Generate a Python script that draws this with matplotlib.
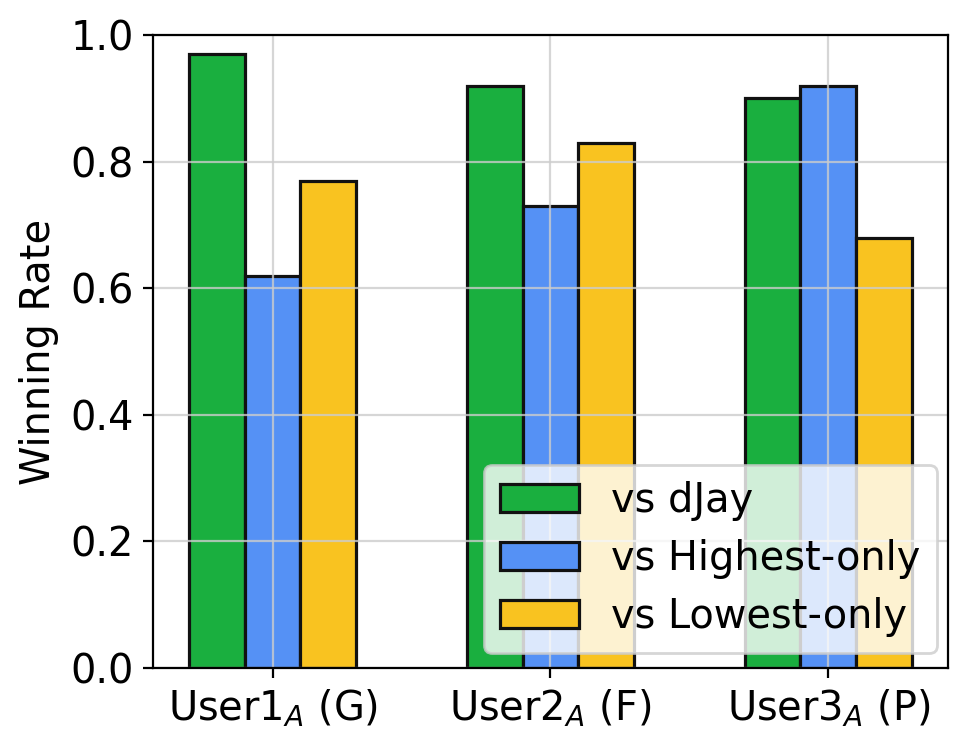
import matplotlib.pyplot as plt
import numpy as np

users = ['User1$_A$ (G)', 'User2$_A$ (F)', 'User3$_A$ (P)']
series_names = ['vs dJay', 'vs Highest-only', 'vs Lowest-only']
vs_djay = [0.97, 0.92, 0.90]
vs_highest = [0.62, 0.73, 0.92]
vs_lowest = [0.77, 0.83, 0.68]
colors = ['#1AAF3F', '#5591F5', '#F9C320']

plt.rcParams['font.size'] = 14.35

fig, ax = plt.subplots(figsize=(4.845, 3.74), dpi=200)
x = np.arange(len(users))
width = 0.2
for i, (vals, name) in enumerate(zip([vs_djay, vs_highest, vs_lowest], series_names)):
    ax.bar(x + (i - 1) * width, vals, width, color=colors[i], edgecolor='#111111',
           linewidth=1.15, label=name)

ax.set_xticks(x)
ax.set_xticklabels(users)
ax.set_ylim(0, 1.0)
ax.set_ylabel('Winning Rate')
ax.grid(True, color='#cccccc', alpha=0.8, linewidth=0.8)
ax.legend(loc='lower right', bbox_to_anchor=(0.986, 0.024), borderaxespad=0,
          labelspacing=0.45)

fig.subplots_adjust(left=0.158, right=0.978, top=0.953, bottom=0.107)
plt.savefig('out.png', dpi=200)
plt.close()
